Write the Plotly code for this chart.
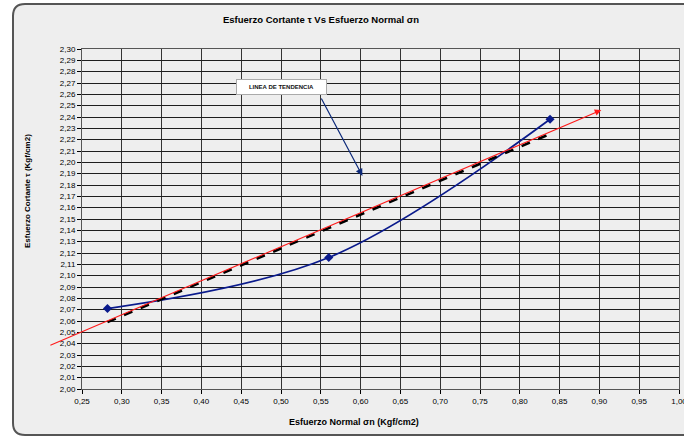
import plotly.graph_objects as go

# Data
sigma_n = [0.282, 0.560, 0.838]
tau = [2.071, 2.116, 2.238]
trend_x = [0.282, 0.838]
trend_y = [2.059, 2.225]
red_x = [0.2084, 0.9024]
red_y = [2.038, 2.2462]
label_arrow_x = [0.5497, 0.6023]
label_arrow_y = [2.2577, 2.188]

W, H = 700, 437
L, R, T, B = 82, 21, 49, 48
PW, PH = W - L - R, H - T - B


def px(x):
    return (x - L) / PW


def py(y):
    return (H - B - y) / PH


fig = go.Figure()

fig.add_trace(go.Scatter(
    x=sigma_n, y=tau, mode="lines+markers",
    line=dict(color="#0a1a8c", width=1.8, shape="spline", smoothing=1),
    marker=dict(symbol="diamond", size=7, color="#0a1a8c"),
    showlegend=False, hoverinfo="skip"))

fig.add_trace(go.Scatter(
    x=trend_x, y=trend_y, mode="lines",
    line=dict(color="black", width=2.6, dash="dash"),
    showlegend=False, hoverinfo="skip"))

# rounded chart border
x0, x1 = px(13), px(710)
y0, y1 = py(435), py(4)
rx, ry = 12 / PW, 12 / PH
path = (f"M {x0+rx},{y1} L {x1},{y1} L {x1},{y0} L {x0+rx},{y0} "
        f"Q {x0},{y0} {x0},{y0+ry} L {x0},{y1-ry} Q {x0},{y1} {x0+rx},{y1} Z")
fig.add_shape(type="path", path=path, xref="paper", yref="paper",
              fillcolor="#eeeeee", line=dict(color="#555555", width=2), layer="below")

# red trend arrow
fig.add_annotation(x=red_x[1], y=red_y[1], ax=red_x[0], ay=red_y[0],
                   xref="x", yref="y", axref="x", ayref="y", text="",
                   showarrow=True, arrowhead=2, arrowsize=1.2, arrowwidth=1.1,
                   arrowcolor="#ff1a1a")
# label arrow
fig.add_annotation(x=label_arrow_x[1], y=label_arrow_y[1], ax=label_arrow_x[0], ay=label_arrow_y[0],
                   xref="x", yref="y", axref="x", ayref="y", text="",
                   showarrow=True, arrowhead=2, arrowsize=1.2, arrowwidth=1.2,
                   arrowcolor="#0d2a7a")
fig.add_annotation(x=px(281.5), y=py(86.5), xref="paper", yref="paper",
                   text="<b>LINEA DE TENDENCIA</b>", showarrow=False,
                   font=dict(family="Liberation Sans, Arial", size=6, color="#111"),
                   bgcolor="white", bordercolor="#aaaaaa", borderwidth=1,
                   width=86, height=11, borderpad=1.5, xanchor="center", yanchor="middle")

# titles
fig.add_annotation(x=px(321), y=py(19), xref="paper", yref="paper",
                   text="<b>Esfuerzo Cortante τ Vs Esfuerzo Normal σn</b>", showarrow=False,
                   font=dict(family="Liberation Sans, Arial", size=9.5, color="black"),
                   xanchor="center", yanchor="middle")
fig.add_annotation(x=px(354), y=py(422), xref="paper", yref="paper",
                   text="<b>Esfuerzo Normal σn (Kgf/cm2)</b>", showarrow=False,
                   font=dict(family="Liberation Sans, Arial", size=9, color="black"),
                   xanchor="center", yanchor="middle")
fig.add_annotation(x=px(27), y=py(191), xref="paper", yref="paper",
                   text="<b>Esfuerzo Cortante τ (Kgf/cm2)</b>", showarrow=False, textangle=-90,
                   font=dict(family="Liberation Sans, Arial", size=8, color="black"),
                   xanchor="center", yanchor="middle")

axis_font = dict(family="Liberation Sans, Arial", size=8, color="black")
fig.update_xaxes(range=[0.25, 1.0], dtick=0.05, tick0=0.25, tickformat=".2f",
                 showgrid=True, gridcolor="#333333", gridwidth=1,
                 showline=True, linecolor="#555555", linewidth=1, mirror=True,
                 ticks="outside", ticklen=4, tickcolor="black",
                 tickfont=axis_font, zeroline=False)
fig.update_yaxes(range=[2.0, 2.3], dtick=0.01, tick0=2.0, tickformat=".2f",
                 showgrid=True, gridcolor="#1e1e1e", gridwidth=1,
                 showline=True, linecolor="#555555", linewidth=1, mirror=True,
                 ticks="outside", ticklen=4, tickcolor="black",
                 tickfont=axis_font, zeroline=False)

fig.update_layout(width=W, height=H, margin=dict(l=L, r=R, t=T, b=B, pad=0),
                  paper_bgcolor="white", plot_bgcolor="#dcdcdc",
                  separators=",.", showlegend=False)

fig.write_html("out.html", config={"displayModeBar": False},
               post_script="document.body.style.margin='0';document.body.style.overflow='hidden';")
